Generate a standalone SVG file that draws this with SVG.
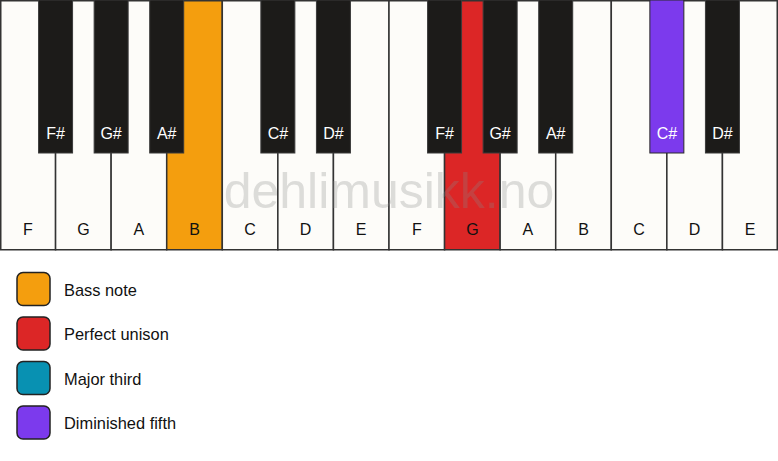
<svg xmlns="http://www.w3.org/2000/svg" width="778" height="461" viewBox="0 0 778 461">
<style>
.w{fill:#fdfcf9;stroke:#333;stroke-width:1.5}
.b{fill:#1c1b19;stroke:#3a3a3a;stroke-width:1}
.wl{font-family:"Liberation Sans",Arial,sans-serif;font-size:16px;fill:#111;text-anchor:middle}
.bl{font-family:"Liberation Sans",Arial,sans-serif;font-size:16px;fill:#fff;text-anchor:middle}
.lg{stroke:#222;stroke-width:1.5}
.lt{font-family:"Liberation Sans",Arial,sans-serif;font-size:16.4px;fill:#111}
.wm{font-family:"Liberation Sans",Arial,sans-serif;font-size:50px;fill:#8a8a8a;fill-opacity:0.28;text-anchor:middle}
</style>
<rect width="778" height="461" fill="#fff"/>
<g id="white-keys">
<g id="wk-F1"><rect class="w" x="0.75" y="0.75" width="54.82" height="249"/><text class="wl" x="27.8" y="235">F</text></g>
<g id="wk-G1"><rect class="w" x="55.57" y="0.75" width="55.57" height="249"/><text class="wl" x="83.4" y="235">G</text></g>
<g id="wk-A1"><rect class="w" x="111.14" y="0.75" width="55.57" height="249"/><text class="wl" x="138.9" y="235">A</text></g>
<g id="wk-B1"><rect class="w" x="166.71" y="0.75" width="55.57" height="249" style="fill:#f49e0e"/><text class="wl" x="194.5" y="235">B</text></g>
<g id="wk-C1"><rect class="w" x="222.29" y="0.75" width="55.57" height="249"/><text class="wl" x="250.1" y="235">C</text></g>
<g id="wk-D1"><rect class="w" x="277.86" y="0.75" width="55.57" height="249"/><text class="wl" x="305.6" y="235">D</text></g>
<g id="wk-E1"><rect class="w" x="333.43" y="0.75" width="55.57" height="249"/><text class="wl" x="361.2" y="235">E</text></g>
<g id="wk-F2"><rect class="w" x="389" y="0.75" width="55.57" height="249"/><text class="wl" x="416.8" y="235">F</text></g>
<g id="wk-G2"><rect class="w" x="444.57" y="0.75" width="55.57" height="249" style="fill:#dc2626"/><text class="wl" x="472.4" y="235">G</text></g>
<g id="wk-A2"><rect class="w" x="500.14" y="0.75" width="55.57" height="249"/><text class="wl" x="527.9" y="235">A</text></g>
<g id="wk-B2"><rect class="w" x="555.71" y="0.75" width="55.57" height="249"/><text class="wl" x="583.5" y="235">B</text></g>
<g id="wk-C2"><rect class="w" x="611.29" y="0.75" width="55.57" height="249"/><text class="wl" x="639.1" y="235">C</text></g>
<g id="wk-D2"><rect class="w" x="666.86" y="0.75" width="55.57" height="249"/><text class="wl" x="694.6" y="235">D</text></g>
<g id="wk-E2"><rect class="w" x="722.43" y="0.75" width="54.82" height="249"/><text class="wl" x="750.2" y="235">E</text></g>
</g>
<g id="black-keys">
<g id="bk-Fs1"><rect class="b" x="38.57" y="0" width="34" height="153"/><text class="bl" x="55.6" y="139">F#</text></g>
<g id="bk-Gs1"><rect class="b" x="94.14" y="0" width="34" height="153"/><text class="bl" x="111.1" y="139">G#</text></g>
<g id="bk-As1"><rect class="b" x="149.71" y="0" width="34" height="153"/><text class="bl" x="166.7" y="139">A#</text></g>
<g id="bk-Cs1"><rect class="b" x="260.86" y="0" width="34" height="153"/><text class="bl" x="277.9" y="139">C#</text></g>
<g id="bk-Ds1"><rect class="b" x="316.43" y="0" width="34" height="153"/><text class="bl" x="333.4" y="139">D#</text></g>
<g id="bk-Fs2"><rect class="b" x="427.57" y="0" width="34" height="153"/><text class="bl" x="444.6" y="139">F#</text></g>
<g id="bk-Gs2"><rect class="b" x="483.14" y="0" width="34" height="153"/><text class="bl" x="500.1" y="139">G#</text></g>
<g id="bk-As2"><rect class="b" x="538.71" y="0" width="34" height="153"/><text class="bl" x="555.7" y="139">A#</text></g>
<g id="bk-Cs2"><rect class="b" x="649.86" y="0" width="34" height="153" style="fill:#7c3aed;stroke:#2a2a2a"/><text class="bl" x="666.9" y="139">C#</text></g>
<g id="bk-Ds2"><rect class="b" x="705.43" y="0" width="34" height="153"/><text class="bl" x="722.4" y="139">D#</text></g>
</g>
<text class="wm" x="389" y="208">dehlimusikk.no</text>
<g id="connectors"></g>
<g id="legend">
<g id="lg-bass"><rect class="lg" x="17" y="272.5" width="33" height="33" rx="6" fill="#f49e0e"/><text class="lt" x="64" y="295.5">Bass note</text></g>
<g id="lg-unison"><rect class="lg" x="17" y="317" width="33" height="33" rx="6" fill="#dc2626"/><text class="lt" x="64" y="340">Perfect unison</text></g>
<g id="lg-third"><rect class="lg" x="17" y="361.5" width="33" height="33" rx="6" fill="#0891b2"/><text class="lt" x="64" y="384.5">Major third</text></g>
<g id="lg-fifth"><rect class="lg" x="17" y="406" width="33" height="33" rx="6" fill="#7c3aed"/><text class="lt" x="64" y="429">Diminished fifth</text></g>
</g>
</svg>
